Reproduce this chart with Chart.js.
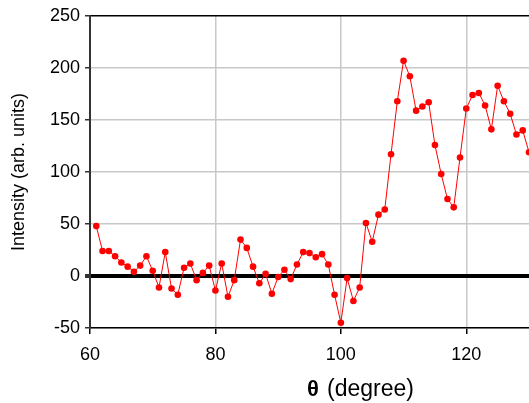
<!DOCTYPE html>
<html>
<head>
    <title>Intensity vs theta</title>
    <script src="https://cdn.jsdelivr.net/npm/chart.js"></script>
    <style>
        body { margin: 0; background: #fff; }
        canvas { display: block; }
    </style>
</head>
<body>
<canvas id="scanChart" width="529" height="403"></canvas>

<script>
    // angle in degrees, one reading per degree
    const angles = [61, 62, 63, 64, 65, 66, 67, 68, 69, 70,
        71, 72, 73, 74, 75, 76, 77, 78, 79, 80,
        81, 82, 83, 84, 85, 86, 87, 88, 89, 90,
        91, 92, 93, 94, 95, 96, 97, 98, 99, 100,
        101, 102, 103, 104, 105, 106, 107, 108, 109, 110,
        111, 112, 113, 114, 115, 116, 117, 118, 119, 120,
        121, 122, 123, 124, 125, 126, 127, 128, 129, 130];
    const intensity = [48, 24, 24, 19, 13, 9, 4, 10, 19, 5,
        -11, 23, -12, -18, 8, 12, -4, 3, 10, -14,
        12, -20, -4, 35, 27, 9, -7, 2, -17, -1,
        6, -3, 11, 23, 22, 18, 21, 11, -18, -45,
        -2, -24, -11, 51, 33, 59, 64, 117, 168, 207,
        192, 159, 163, 167, 126, 98, 74, 66, 114, 161,
        174, 176, 164, 141, 183, 168, 156, 136, 140, 119];
    const xTicks = [60, 80, 100, 120];

    const points = angles.map((a, i) => ({ x: a, y: intensity[i] }));

    const xTitle = {
        id: 'xTitle',
        afterDraw(chart) {
            const c = chart.ctx;
            c.save();
            c.fillStyle = '#000';
            c.textBaseline = 'middle';
            c.textAlign = 'left';
            c.font = 'bold 22px "Liberation Sans", Arial, sans-serif';
            c.fillText('θ', 307, 390);
            c.font = '23px "Liberation Sans", Arial, sans-serif';
            c.fillText('(degree)', 327, 390);
            c.restore();
        }
    };

    const ctx = document.getElementById('scanChart').getContext('2d');
    new Chart(ctx, {
        type: 'line',
        data: {
            datasets: [{
                data: points,
                borderColor: '#ff0000',
                backgroundColor: '#ff0000',
                borderWidth: 1,
                pointRadius: 3.3,
                pointBorderWidth: 0,
                tension: 0,
                clip: false
            }]
        },
        options: {
            responsive: false,
            animation: false,
            layout: {
                autoPadding: false,
                padding: { top: 16, right: 0, left: 0, bottom: 0 }
            },
            plugins: {
                legend: { display: false },
                tooltip: { enabled: false }
            },
            scales: {
                x: {
                    type: 'linear',
                    min: 60,
                    max: 130,
                    afterBuildTicks: scale => {
                        scale.ticks = xTicks.map(v => ({ value: v }));
                    },
                    afterFit: scale => { scale.height = 75; },
                    ticks: {
                        color: '#000',
                        font: { size: 18, family: '"Liberation Sans", Arial, sans-serif' },
                        padding: 10,
                        maxRotation: 0
                    },
                    grid: {
                        color: c => c.tick && c.tick.value === 60 ? 'rgba(0,0,0,0)' : '#c8c8c8',
                        lineWidth: 1.5,
                        tickLength: 6,
                        tickColor: '#000'
                    },
                    border: { color: '#000', width: 1.5 }
                },
                y: {
                    min: -50,
                    max: 250,
                    afterFit: scale => { scale.width = 90; },
                    ticks: {
                        stepSize: 50,
                        color: '#000',
                        font: { size: 18, family: '"Liberation Sans", Arial, sans-serif' },
                        padding: 5
                    },
                    grid: {
                        color: c => (c.tick.value === 250 || c.tick.value === 0) ? '#000' : '#c8c8c8',
                        lineWidth: c => c.tick.value === 0 ? 4 : 1.5,
                        tickLength: 5,
                        tickColor: '#333'
                    },
                    border: { color: '#333', width: 2 },
                    title: {
                        display: true,
                        text: 'Intensity (arb. units)',
                        color: '#000',
                        font: { size: 18, family: '"Liberation Sans", Arial, sans-serif' },
                        padding: { top: 8, bottom: 0 }
                    }
                }
            }
        },
        plugins: [xTitle]
    });
</script>
</body>
</html>
